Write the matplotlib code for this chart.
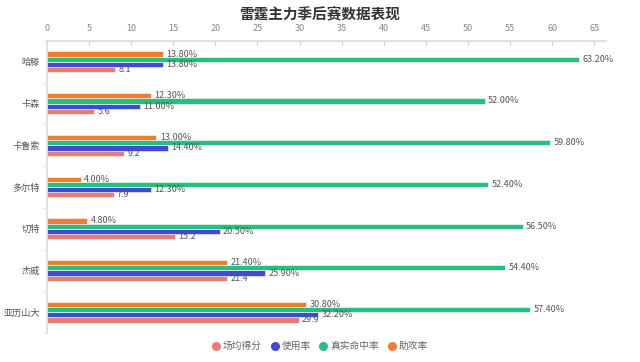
import numpy as np
import matplotlib
matplotlib.use("Agg")
import matplotlib.pyplot as plt
from matplotlib.lines import Line2D

plt.rcParams['font.family'] = ['Noto Sans CJK SC', 'DejaVu Sans']

# datos del gráfico
jugadores = ["哈滕", "卡森", "卡鲁索", "多尔特", "切特", "杰威", "亚历山大"]
puntos = [8.1, 5.6, 9.2, 7.9, 15.2, 21.4, 29.9]
uso = [13.8, 11.0, 14.4, 12.3, 20.5, 25.9, 32.2]
ts = [63.2, 52.0, 59.8, 52.4, 56.5, 54.4, 57.4]
asistencias = [13.8, 12.3, 13.0, 4.0, 4.8, 21.4, 30.8]
series = ["场均得分", "使用率", "真实命中率", "助攻率"]
xticks = [0, 5, 10, 15, 20, 25, 30, 35, 40, 45, 50, 55, 60, 65]

colores = ["#e87b72", "#3f4ad6", "#27bf7f", "#ef7d31"]
valores = [puntos, uso, ts, asistencias]

fig = plt.figure(figsize=(6.4, 3.62), dpi=100)
ax = fig.add_axes([47 / 640, 1 - 333 / 362, (606 - 47) / 640, (333 - 41) / 362])

y = np.arange(len(jugadores))
alto = 0.125
# primera serie abajo dentro del grupo
offsets = [1.5, 0.5, -0.5, -1.5]
for i, (nombre, vals, col) in enumerate(zip(series, valores, colores)):
    pos = y + offsets[i] * alto
    ax.barh(pos, vals, height=alto, color=col, edgecolor="white", linewidth=0.4)
    for p, v in zip(pos, vals):
        txt = f"{v:g}" if i == 0 else f"{v:.2f}%"
        ax.text(v + 0.4, p, txt, va="center", ha="left", fontsize=6.5, color="#555555")

ax.set_ylim(len(jugadores) - 0.5, -0.5)
ax.set_xlim(0, 66.4)
ax.xaxis.tick_top()
ax.set_xticks(xticks)
ax.tick_params(axis="x", labelsize=6.5, colors="#cccccc", labelcolor="#888888",
               length=3, direction="in", pad=6)
ax.set_yticks(y)
ax.set_yticklabels(jugadores)
ax.set_yticks(np.arange(len(jugadores) + 1) - 0.5, minor=True)
ax.tick_params(axis="y", which="major", length=0, labelsize=6.6, labelcolor="#555555", pad=5)
ax.tick_params(axis="y", which="minor", length=3, color="#dddddd")

for s in ["right", "bottom"]:
    ax.spines[s].set_visible(False)
ax.spines["top"].set_color("#dddddd")
ax.spines["left"].set_color("#dddddd")
ax.spines["top"].set_linewidth(1.2)
ax.spines["left"].set_linewidth(1.2)

fig.text(0.5, 1 - 13 / 362, "雷霆主力季后赛数据表现", ha="center", va="center",
         fontsize=10.5, fontweight="bold", color="#333333")

handles = [Line2D([], [], marker="o", linestyle="none", markersize=5.5,
                  markerfacecolor=c, markeredgecolor=c) for c in colores]
fig.legend(handles, series, loc="center", bbox_to_anchor=(0.5, 1 - 346 / 362),
           ncol=4, frameon=False, fontsize=7, labelcolor="#666666",
           handlelength=0.8, handletextpad=0.3, columnspacing=0.9)

fig.savefig("out.png", dpi=100)
